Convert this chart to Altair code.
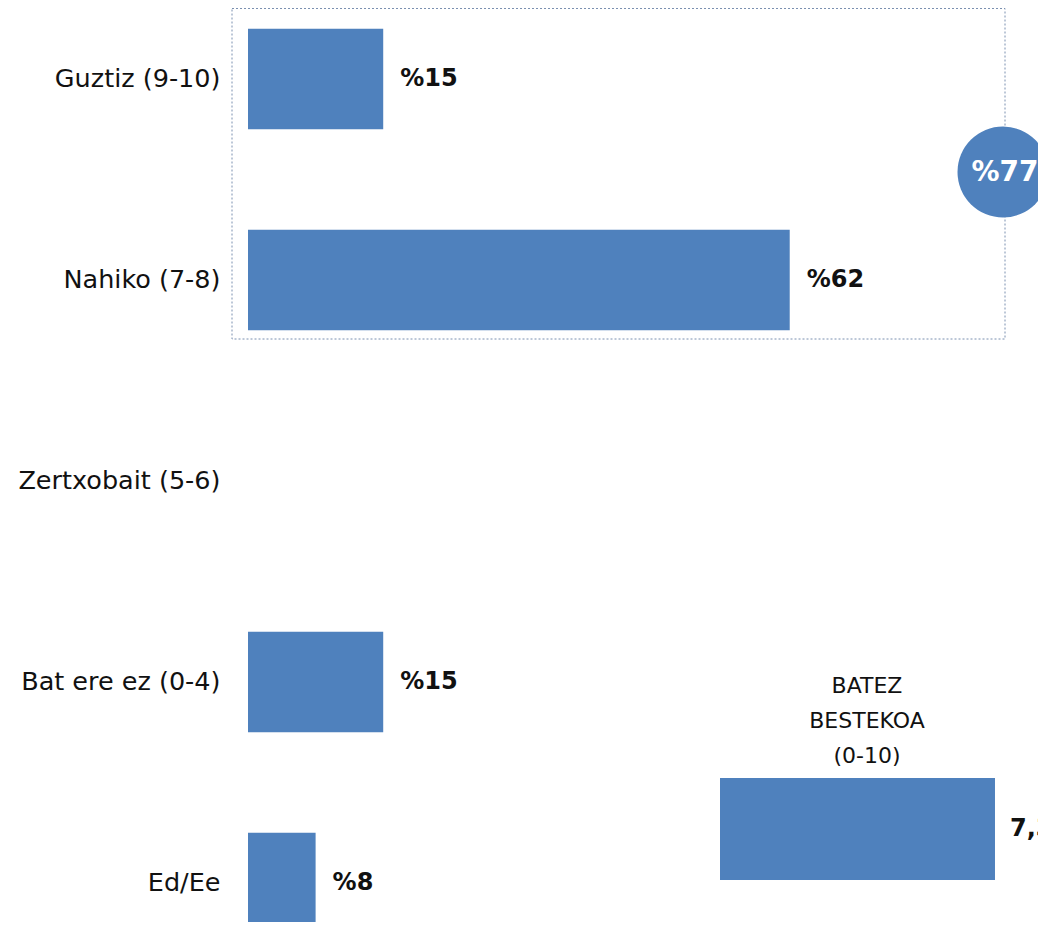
import altair as alt
import pandas as pd

# ---- data ----
categories = ["Guztiz (9-10)", "Nahiko (7-8)", "Zertxobait (5-6)", "Bat ere ez (0-4)", "Ed/Ee"]
values = [15.4, 61.7, 0.0, 15.4, 7.7]
labels = ["%15", "%62", "", "%15", "%8"]
total_label = "%77"
avg_title = "BATEZ\nBESTEKOA\n(0-10)"
avg_value = 7.3
avg_label = "7,3"

BLUE = "#4F81BD"
FONT = "DejaVu Sans"
TXT = "#111111"

df = pd.DataFrame({"cat": categories, "value": values, "label": labels})
df_avg = pd.DataFrame({"cat": ["avg"], "value": [avg_value], "label": [avg_label], "title": [avg_title]})
df_tot = pd.DataFrame({"label": [total_label]})

yscale = alt.Scale(domain=categories, range=[-29.5, 975.5], paddingInner=0.5, paddingOuter=0.25)
xscale = alt.Scale(domain=[0, 100], range=[0, 878])

bars = alt.Chart(df).mark_bar(color=BLUE).encode(
    y=alt.Y("cat:N", sort=categories, scale=yscale, title=None,
            axis=alt.Axis(domain=False, ticks=False, grid=False, labelPadding=28,
                          labelFont=FONT, labelFontSize=25.5, labelColor=TXT, labelLimit=400)),
    x=alt.X("value:Q", scale=xscale, axis=None),
)

bar_text = alt.Chart(df).mark_text(
    align="left", baseline="middle", dx=17, font=FONT, fontSize=24, fontWeight="bold", color=TXT
).encode(
    y=alt.Y("cat:N", sort=categories, scale=yscale, axis=None),
    x=alt.X("value:Q", scale=xscale, axis=None),
    text="label:N",
)

box = alt.Chart(df_tot).mark_rect(
    fillOpacity=0, stroke="#7b90b0", strokeWidth=1, strokeDash=[2, 2]
).encode(x=alt.value(-16), x2=alt.value(757), y=alt.value(0.5), y2=alt.value(331))

circle = alt.Chart(df_tot).mark_point(
    shape="circle", filled=True, opacity=1, color=BLUE, size=8281
).encode(x=alt.value(755), y=alt.value(164))

circle_text = alt.Chart(df_tot).mark_text(
    align="center", baseline="middle", font=FONT, fontSize=28, fontWeight="bold", color="white"
).encode(x=alt.value(757), y=alt.value(165), text="label:N")

ay = alt.Scale(range=[770, 872], paddingInner=0, paddingOuter=0)
ax = alt.Scale(domain=[0, 10], range=[472, 848.7])

avg_bar = alt.Chart(df_avg).mark_bar(color=BLUE).encode(
    y=alt.Y("cat:N", scale=ay, axis=None),
    x=alt.X("value:Q", scale=ax, axis=None),
)
avg_text = alt.Chart(df_avg).mark_text(
    align="left", baseline="middle", dx=15, font=FONT, fontSize=24, fontWeight="bold", color=TXT
).encode(
    y=alt.Y("cat:N", scale=ay, axis=None),
    x=alt.X("value:Q", scale=ax, axis=None),
    text="label:N",
)
avg_head = alt.Chart(df_avg).mark_text(
    align="center", baseline="middle", lineBreak="\n", lineHeight=35,
    font=FONT, fontSize=22, color=TXT
).encode(x=alt.value(619), y=alt.value(678), text="title:N")

chart = alt.layer(
    box, bars, bar_text, circle, circle_text, avg_bar, avg_text, avg_head
).resolve_scale(x="independent", y="independent").properties(
    width=790, height=914,
    autosize=alt.AutoSizeParams(type="none"),
    padding={"left": 240, "top": 0, "right": 0, "bottom": 0},
    background="white",
).configure_view(stroke=None)

chart.save("out.html", embed_options={"renderer": "svg", "actions": False})
